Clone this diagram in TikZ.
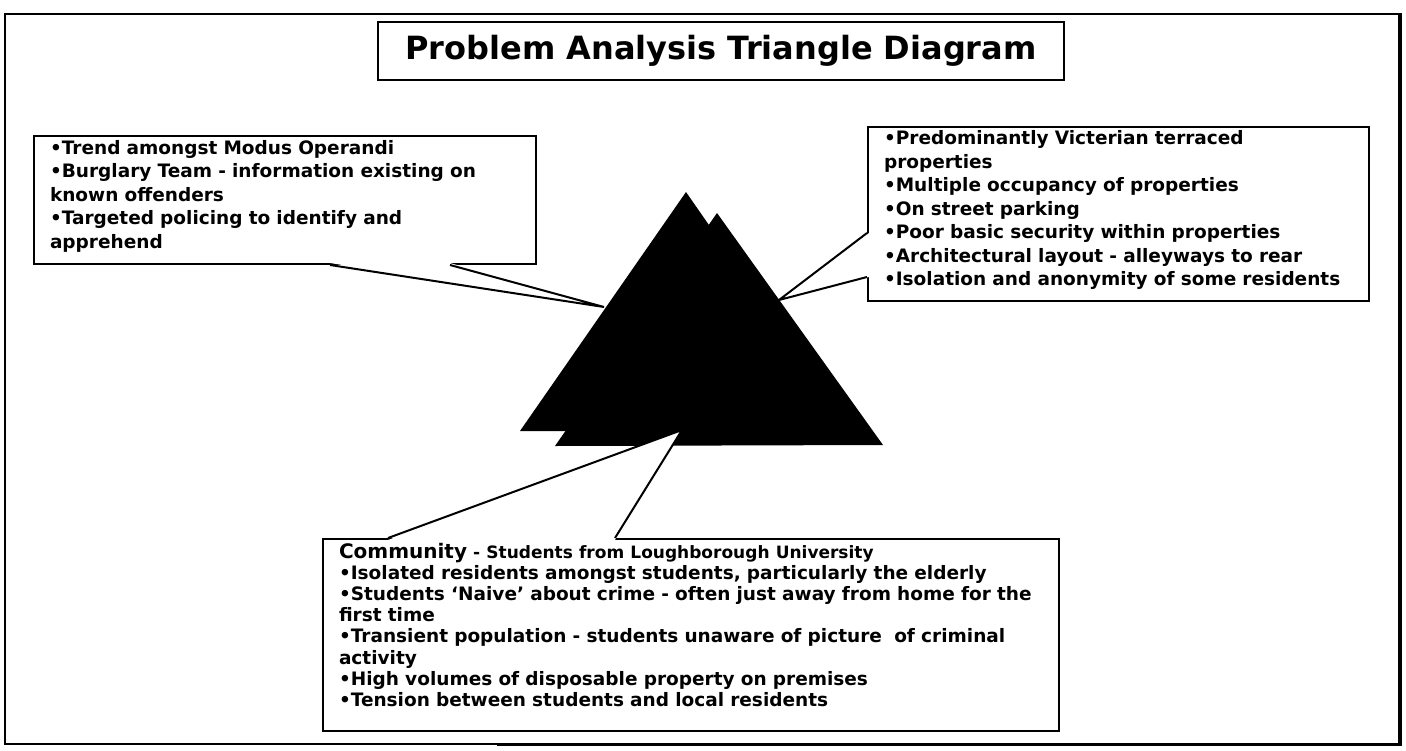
\documentclass[tikz,border=0pt]{standalone}
\usepackage{fontspec}
\setmainfont{DejaVu Sans}
\usetikzlibrary{calc}

\newcommand{\lastdepth}[1]{\rule[-#1]{0pt}{#1}}

\begin{document}
\begin{tikzpicture}[
    x=1pt, y=-1pt,
    every node/.style={font=\bfseries},
    info_box/.style={draw=black, fill=white, line width=2pt, anchor=north west, align=left, inner xsep=16pt, inner ysep=0pt, font=\fontsize{18.5}{23.5}\selectfont\bfseries},
    title_box/.style={draw=black, fill=white, line width=2pt, minimum width=686pt, minimum height=58pt, inner sep=0pt, font=\fontsize{32}{36}\selectfont\bfseries},
    tri_shape/.style={fill=black},
    pointer_line/.style={line width=2pt, line join=miter},
    frame_line/.style={line width=2pt}
]
  \useasboundingbox (0,0) rectangle (1406,750);

  % Outer frame
  \draw[frame_line] (5,14) rectangle (1400,744);
  \draw[line width=4pt] (1400,13) -- (1400,746);
  \draw[line width=3pt] (497,744) -- (1401.5,744);

  % Title
  \node[title_box] (title) at (721,51) {Problem Analysis Triangle Diagram};

  % Triangles
  \fill[tri_shape] (686,192) -- (520,431) -- (852,431) -- cycle;
  \fill[tri_shape] (717,213) -- (555,446) -- (883,445) -- cycle;

  % Offender box
  \node[info_box, text width=470pt, minimum height=128pt] (trend_box) at (33,135) {%
    •Trend amongst Modus Operandi\\
    •Burglary Team - information existing on\\
    known offenders\\
    •Targeted policing to identify and\\
    apprehend\lastdepth{12pt}};
  \coordinate (trend_tip) at (604,307);
  \coordinate (trend_a) at ($(trend_box.south west)+(297,0)$);
  \coordinate (trend_b) at ($(trend_box.south west)+(417,0)$);
  \fill[white] ($(trend_a)+(0,-2)$) -- (trend_tip) -- ($(trend_b)+(0,-2)$) -- cycle;
  \draw[pointer_line] (trend_a) -- (trend_tip) -- (trend_b);

  % Location box
  \node[info_box, text width=469pt, minimum height=174pt] (place_box) at (867,126) {%
    •Predominantly Victerian terraced\\
    properties\\
    •Multiple occupancy of properties\\
    •On street parking\\
    •Poor basic security within properties\\
    •Architectural layout - alleyways to rear\\
    •Isolation and anonymity of some residents\lastdepth{12pt}};
  \coordinate (place_tip) at (779,300);
  \coordinate (place_a) at ($(place_box.north west)+(0,107)$);
  \coordinate (place_b) at ($(place_box.north west)+(0,151)$);
  \fill[white] ($(place_a)+(2,0)$) -- (place_tip) -- ($(place_b)+(2,0)$) -- cycle;
  \draw[pointer_line] (place_a) -- (place_tip) -- (place_b);

  % Community box
  \node[info_box, text width=704pt, minimum height=192pt, font=\fontsize{18.5}{21.2}\selectfont\bfseries] (victim_box) at (322,538) {%
    {\fontsize{20}{21.2}\selectfont Community} {\fontsize{17}{21.2}\selectfont - Students from Loughborough University}\\
    •Isolated residents amongst students, particularly the elderly\\
    •Students ‘Naive’ about crime - often just away from home for the\\
    first time\\
    •Transient population - students unaware of picture\ \ of criminal\\
    activity\\
    •High volumes of disposable property on premises\\
    •Tension between students and local residents\lastdepth{20.5pt}};
  \coordinate (victim_tip) at (682,430);
  \coordinate (victim_a) at ($(victim_box.north west)+(66,0)$);
  \coordinate (victim_b) at ($(victim_box.north west)+(293,0)$);
  \fill[white] ($(victim_a)+(0,2)$) -- (victim_tip) -- ($(victim_b)+(0,2)$) -- cycle;
  \draw[pointer_line] (victim_a) -- (victim_tip) -- (victim_b);

\end{tikzpicture}
\end{document}
